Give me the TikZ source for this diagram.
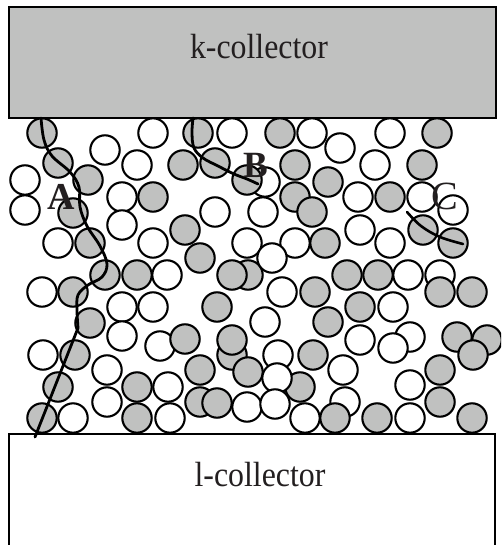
\documentclass[tikz,border=0pt]{standalone}
\usepackage{fontspec}
\setmainfont{Liberation Serif}
\definecolor{fillg}{RGB}{192,193,192}
\definecolor{txt}{RGB}{35,31,32}
\begin{document}
\begin{tikzpicture}[x=1pt,y=-1pt,
  gp/.style={draw=black,line width=2.1pt,fill=fillg},
  wp/.style={draw=black,line width=2.1pt,fill=white},
  coll/.style={draw=black,line width=1.5pt},
  path/.style={draw=black,line width=2.8pt,line cap=round,line join=round},
  lbl/.style={text=txt,inner sep=0pt}]
\useasboundingbox (0,0) rectangle (501,545);
\clip (0,0) rectangle (501,545);
\def\rr{14.7}
% collectors
\draw[coll,fill=fillg] (9,7) rectangle (496,118);
\node[lbl,anchor=base] (kc) at (259,59) {\scalebox{0.91}[1]{\fontsize{35}{40}\selectfont k-collector}};
\draw[coll,fill=white] (9,434) rectangle (495,560);
\node[lbl,anchor=base] (lc) at (260,486) {\scalebox{0.91}[1]{\fontsize{35}{40}\selectfont l-collector}};
% circles behind
\foreach \x/\y in {265/182,440/275,410/337} \draw[wp] (\x,\y) circle (\rr);
\foreach \x/\y in {248/275,232/355,300/387} \draw[gp] (\x,\y) circle (\rr);
% white particles
\foreach \x/\y in {153/133,232/133,312/133,390/133,105/150,340/148,137/165,375/165,
  25/180,122/197,358/197,422/197,25/210,215/212,263/212,453/210,122/225,360/230,
  58/243,153/243,247/243,295/243,390/243,272/258,167/275,408/275,42/292,282/292,
  122/307,153/307,393/307,265/322,122/336,360/340,160/346,43/355,278/355,393/348,
  107/370,343/370,168/387,410/385,107/402,345/402,170/418,73/418,305/418,410/418}
  \draw[wp] (\x,\y) circle (\rr);
% grey particles
\foreach \x/\y in {42/133,198/133,280/133,437/133,58/163,183/165,215/163,295/165,422/165,
  88/180,247/180,328/182,153/197,295/197,390/197,73/213,312/212,185/230,423/230,
  90/243,325/243,453/243,200/258,105/275,137/275,232/275,347/275,378/275,
  73/292,315/292,440/292,472/292,217/307,360/307,90/323,328/322,
  185/339,232/340,457/337,487/340,75/355,313/355,473/355,
  200/370,248/372,440/370,58/387,137/387,
  200/402,217/403,440/402,42/418,137/418,335/418,377/418,472/418}
  \draw[gp] (\x,\y) circle (\rr);
% front whites overlapping
\draw[wp] (277,378) circle (\rr);
\draw[wp] (247,407) circle (\rr);
\draw[wp] (275,404) circle (\rr);
% paths
\draw[path] plot[smooth,tension=0.6] coordinates {(41,118) (44,140) (52,156) (70,172) (79,187) (80,207) (87,226) (100,246) (107,264) (102,277) (88,285) (78,295) (77,310) (78,328)} -- (35,437);
\draw[path] plot[smooth,tension=0.6] coordinates {(193,118) (192,133) (194,148) (203,158) (218,166) (234,174) (247,179) (258,184)};
\draw[path,line width=2.6pt] plot[smooth,tension=0.6] coordinates {(407,212) (421,226) (440,237) (463,244)};
% labels
\node[lbl] (la) at (61,197) {\fontsize{38}{40}\selectfont\bfseries A};
\node[lbl] (lb) at (256,165) {\fontsize{37}{40}\selectfont\bfseries B};
\node[lbl] (lcc) at (445,196) {\fontsize{40}{40}\selectfont C};
\end{tikzpicture}
\end{document}
